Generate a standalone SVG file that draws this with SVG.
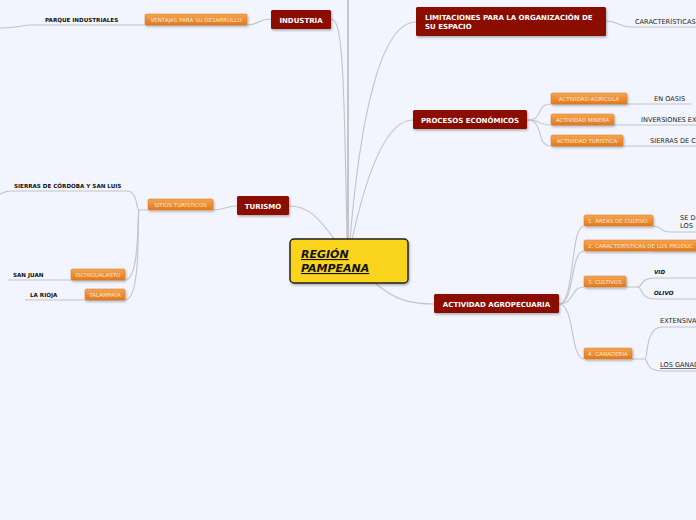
<svg xmlns="http://www.w3.org/2000/svg" width="696" height="520" viewBox="0 0 696 520">
<defs>
<linearGradient id="og" x1="0" y1="0" x2="0" y2="1">
<stop offset="0" stop-color="#f5a550"/>
<stop offset="1" stop-color="#e07a20"/>
</linearGradient>
<filter id="sh" x="-10%" y="-20%" width="130%" height="160%">
<feDropShadow dx="1" dy="1.5" stdDeviation="1" flood-color="#000" flood-opacity="0.3"/>
</filter>
</defs>
<style>
.red rect{fill:#8a0b03;filter:url(#sh);}
.red text{fill:#fff;font-family:"DejaVu Sans",sans-serif;font-weight:bold;font-size:7px;}
.or rect{fill:url(#og);stroke:#dc7420;stroke-width:0.5;filter:url(#sh);}
.or text{fill:#fde8d0;font-family:"DejaVu Sans",sans-serif;font-size:5.5px;}
.leaf{fill:#222;font-family:"DejaVu Sans",sans-serif;font-size:6.6px;}
.lb{fill:#111;font-family:"DejaVu Sans",sans-serif;font-size:5.6px;font-weight:bold;}
.lbi{fill:#111;font-family:"DejaVu Sans",sans-serif;font-size:5.6px;font-weight:bold;font-style:italic;}
#connectors path{fill:none;stroke:#c3c3c8;stroke-width:1.1;}
</style>
<rect width="696" height="520" fill="#f2f5fd"/>
<g id="connectors">
<path d="M348,0 V240" style="stroke:#b8b8bc;stroke-width:1.6"/>
<path d="M331,19 C342,19 344,60 347,240"/>
<path d="M416,22 C380,22 360,120 350,240"/>
<path d="M413,120 C385,120 365,180 352,240"/>
<path d="M289,206 C310,206 320,220 335,240"/>
<path d="M375,283 C395,300 410,304 434,304"/>
<path d="M271,19 C258,19 258,25 247,25 H30 C22,25 20,28 0,28"/>
<path d="M606,21 C618,21 620,27 630,27 H696"/>
<path d="M527,120 C545,120 535,104 551,104 H692"/>
<path d="M527,120 C545,120 535,125 551,125 H696"/>
<path d="M527,120 C545,120 535,146 551,146 H696"/>
<path d="M237,206 C225,206 225,210 213,210"/>
<path d="M148,210 H139 C136,210 138,191 127,191 H10 C5,191 4,193 0,194"/>
<path d="M139,210 C137,215 140,280 125,280 H8"/>
<path d="M139,210 C137,215 142,300 125,300 H25"/>
<path d="M559,304 C575,304 570,226 584,226"/>
<path d="M559,304 C575,304 570,251 584,251"/>
<path d="M559,304 C575,304 570,287 584,287"/>
<path d="M559,304 C575,304 570,359 584,359"/>
<path d="M653,226 C662,226 660,232 670,232 H696"/>
<path d="M653,251 H696"/>
<path d="M626,287 H638 C642,287 640,278 655,278 H696"/>
<path d="M638,287 C642,287 640,299 655,299 H696"/>
<path d="M632,359 H645 C648,359 645,327 662,327 H696"/>
<path d="M645,359 C648,359 645,371 662,371 H696"/>
</g>
<g id="center">
<rect x="290" y="239" width="118" height="44" rx="4" fill="#fad41c" stroke="#222" stroke-width="1.5" filter="url(#sh)"/>
<text x="301" y="258" font-family="DejaVu Sans,sans-serif" font-size="11" font-weight="bold" font-style="italic" text-decoration="underline" fill="#111">REGIÓN </text>
<text x="301" y="272" font-family="DejaVu Sans,sans-serif" font-size="11" font-weight="bold" font-style="italic" text-decoration="underline" fill="#111">PAMPEANA</text>
</g>
<g id="industria" class="red"><rect x="271" y="10" width="60" height="19" rx="1.5"/><text x="301" y="22.5" text-anchor="middle">INDUSTRIA</text></g>
<g id="limitaciones" class="red"><rect x="416" y="7" width="190" height="29" rx="1.5"/><text x="425" y="19.5">LIMITACIONES PARA LA ORGANIZACIÓN DE</text><text x="425" y="28.5">SU ESPACIO</text></g>
<g id="procesos" class="red"><rect x="413" y="110" width="114" height="19" rx="1.5"/><text x="470" y="122.5" text-anchor="middle">PROCESOS ECONÓMICOS</text></g>
<g id="turismo" class="red"><rect x="237" y="196" width="52" height="19" rx="1.5"/><text x="263" y="208.5" text-anchor="middle">TURISMO</text></g>
<g id="agropecuaria" class="red"><rect x="434" y="294" width="125" height="19" rx="1.5"/><text x="496.5" y="306.5" text-anchor="middle">ACTIVIDAD AGROPECUARIA</text></g>
<g id="ventajas" class="or"><rect x="145" y="14" width="102" height="11" rx="1.5"/><text x="196" y="21.5" text-anchor="middle">VENTAJAS PARA SU DESARROLLO</text></g>
<g id="agricola" class="or"><rect x="551" y="93" width="76" height="11" rx="1.5"/><text x="589" y="100.5" text-anchor="middle">ACTIVIDAD AGRICOLA</text></g>
<g id="minera" class="or"><rect x="551" y="114" width="63" height="11" rx="1.5"/><text x="582.5" y="121.5" text-anchor="middle">ACTIVIDAD MINERA</text></g>
<g id="turistica" class="or"><rect x="551" y="135" width="72" height="11" rx="1.5"/><text x="587" y="142.5" text-anchor="middle">ACTIVIDAD TURISTICA</text></g>
<g id="sitios" class="or"><rect x="148" y="199" width="65" height="11" rx="1.5"/><text x="180.5" y="206.5" text-anchor="middle">SITIOS TURÍSTICOS</text></g>
<g id="ischigualasto" class="or"><rect x="71" y="269" width="54" height="11" rx="1.5"/><text x="98" y="276.5" text-anchor="middle">ISCHIGUALASTO</text></g>
<g id="talampaya" class="or"><rect x="85" y="289" width="40" height="11" rx="1.5"/><text x="105" y="296.5" text-anchor="middle">TALAMPAYA</text></g>
<g id="areas" class="or"><rect x="584" y="215" width="69" height="11" rx="1.5"/><text x="588" y="222.5">1. ÁREAS DE CULTIVO</text></g>
<g id="caracteristicas2" class="or"><rect x="584" y="240" width="116" height="11" rx="1.5"/><text x="588" y="247.5">2. CARACTERÍSTICAS DE LOS PRODUC</text></g>
<g id="cultivos" class="or"><rect x="584" y="276" width="42" height="11" rx="1.5"/><text x="588" y="283.5">3. CULTIVOS</text></g>
<g id="ganaderia" class="or"><rect x="584" y="348" width="48" height="11" rx="1.5"/><text x="588" y="355.5">4. GANADERIA</text></g>
<g id="parque"><text class="lb" x="45" y="22">PARQUE INDUSTRIALES</text></g>
<g id="caracteristicas"><text class="leaf" x="635" y="24">CARACTERÍSTICAS</text></g>
<g id="oasis"><text class="leaf" x="654" y="101">EN OASIS</text></g>
<g id="inversiones"><text class="leaf" x="641" y="122">INVERSIONES EX</text></g>
<g id="sierrasc"><text class="leaf" x="650" y="143">SIERRAS DE C</text></g>
<g id="sierras"><text class="lb" x="14" y="188">SIERRAS DE CÓRDOBA Y SAN LUIS</text></g>
<g id="sanjuan"><text class="lb" x="13" y="277">SAN JUAN</text></g>
<g id="larioja"><text class="lb" x="30" y="297">LA RIOJA</text></g>
<g id="sed"><text class="leaf" x="680" y="220">SE D</text><text class="leaf" x="680" y="228">LOS</text></g>
<g id="vid"><text class="lbi" x="654" y="274">VID</text></g>
<g id="olivo"><text class="lbi" x="654" y="295">OLIVO</text></g>
<g id="extensiva"><text class="leaf" x="660" y="323">EXTENSIVA</text></g>
<g id="ganad"><text class="leaf" x="660" y="367" text-decoration="underline">LOS GANAD</text></g>
</svg>
